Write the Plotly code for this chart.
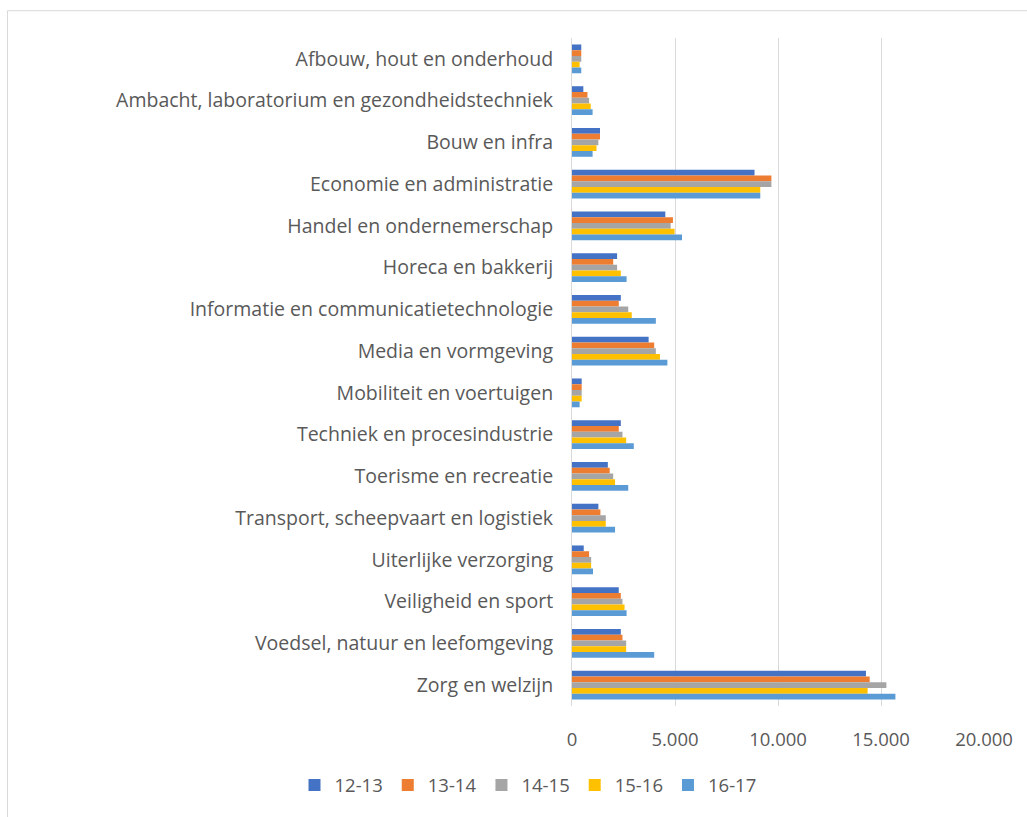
import plotly.graph_objects as go

categories = [
    "Afbouw, hout en onderhoud",
    "Ambacht, laboratorium en gezondheidstechniek",
    "Bouw en infra",
    "Economie en administratie",
    "Handel en ondernemerschap",
    "Horeca en bakkerij",
    "Informatie en communicatietechnologie",
    "Media en vormgeving",
    "Mobiliteit en voertuigen",
    "Techniek en procesindustrie",
    "Toerisme en recreatie",
    "Transport, scheepvaart en logistiek",
    "Uiterlijke verzorging",
    "Veiligheid en sport",
    "Voedsel, natuur en leefomgeving",
    "Zorg en welzijn",
]

series_names = ["12-13", "13-14", "14-15", "15-16", "16-17"]

v_12_13 = [450, 550, 1360, 8860, 4530, 2190, 2370, 3720, 470, 2370, 1740, 1280, 570, 2270, 2370, 14270]
v_13_14 = [450, 750, 1360, 9680, 4900, 2000, 2270, 3990, 470, 2270, 1830, 1380, 830, 2370, 2450, 14450]
v_14_15 = [450, 830, 1280, 9680, 4790, 2190, 2730, 4070, 470, 2450, 2000, 1640, 930, 2450, 2630, 15260]
v_15_16 = [370, 910, 1190, 9140, 4980, 2370, 2900, 4270, 470, 2630, 2090, 1640, 930, 2550, 2630, 14350]
v_16_17 = [450, 1000, 1000, 9140, 5340, 2650, 4070, 4630, 370, 3000, 2730, 2090, 1020, 2650, 3990, 15700]

series_values = [v_12_13, v_13_14, v_14_15, v_15_16, v_16_17]
colors = ["#4472C4", "#ED7D31", "#A5A5A5", "#FFC000", "#5B9BD5"]

x_ticks = [0, 5000, 10000, 15000, 20000]

fig = go.Figure()
for name, vals, col in zip(series_names, series_values, colors):
    fig.add_trace(go.Bar(
        y=categories, x=vals, name=name, orientation="h",
        marker=dict(color=col, line=dict(width=0)),
    ))

W, H = 1027, 817
L, R, T, B = 572, 43, 38, 106
pw = W - L - R
ph = H - T - B

def px2paper_x(px):
    return (px - L) / pw

def px2paper_y(py):
    return (H - B - py) / ph

font_family = "Open Sans, Noto Sans, Liberation Sans, sans-serif"
fs_cat = 19.5
fs = 18.5

fig.update_layout(
    width=W, height=H,
    margin=dict(l=L, r=R, t=T, b=B, pad=0),
    barmode="group",
    bargap=0.31,
    bargroupgap=0,
    plot_bgcolor="white",
    paper_bgcolor="white",
    separators=",.",
    font=dict(family=font_family, size=fs, color="#595959"),
    legend=dict(
        orientation="h",
        x=px2paper_x(528), xanchor="center",
        y=px2paper_y(772), yanchor="top",
        font=dict(size=fs, color="#595959"),
        traceorder="normal",
        itemwidth=30,
        borderwidth=0,
    ),
    xaxis=dict(
        range=[0, 20000],
        tickvals=x_ticks,
        tickformat=",d",
        showgrid=True, gridcolor="#d9d9d9", gridwidth=1,
        zeroline=False,
        showline=False,
        ticks="outside", ticklen=17, tickcolor="rgba(0,0,0,0)",
        tickfont=dict(size=fs, color="#595959"),
        fixedrange=True,
    ),
    yaxis=dict(
        autorange="reversed",
        showgrid=False,
        zeroline=False,
        showline=True, linecolor="#d9d9d9", linewidth=1,
        ticks="outside", ticklen=14, tickcolor="rgba(0,0,0,0)",
        tickfont=dict(size=fs_cat, color="#595959"),
        fixedrange=True,
    ),
    shapes=[dict(
        type="rect", xref="paper", yref="paper",
        x0=px2paper_x(7.5), x1=px2paper_x(1040),
        y0=px2paper_y(840), y1=px2paper_y(10.5),
        line=dict(color="#d9d9d9", width=1),
        fillcolor="rgba(0,0,0,0)",
        layer="below",
    )],
)

fig.write_html(
    "out.html",
    config={"displayModeBar": False},
    post_script="document.body.style.margin='0';document.body.style.overflow='hidden';",
)
